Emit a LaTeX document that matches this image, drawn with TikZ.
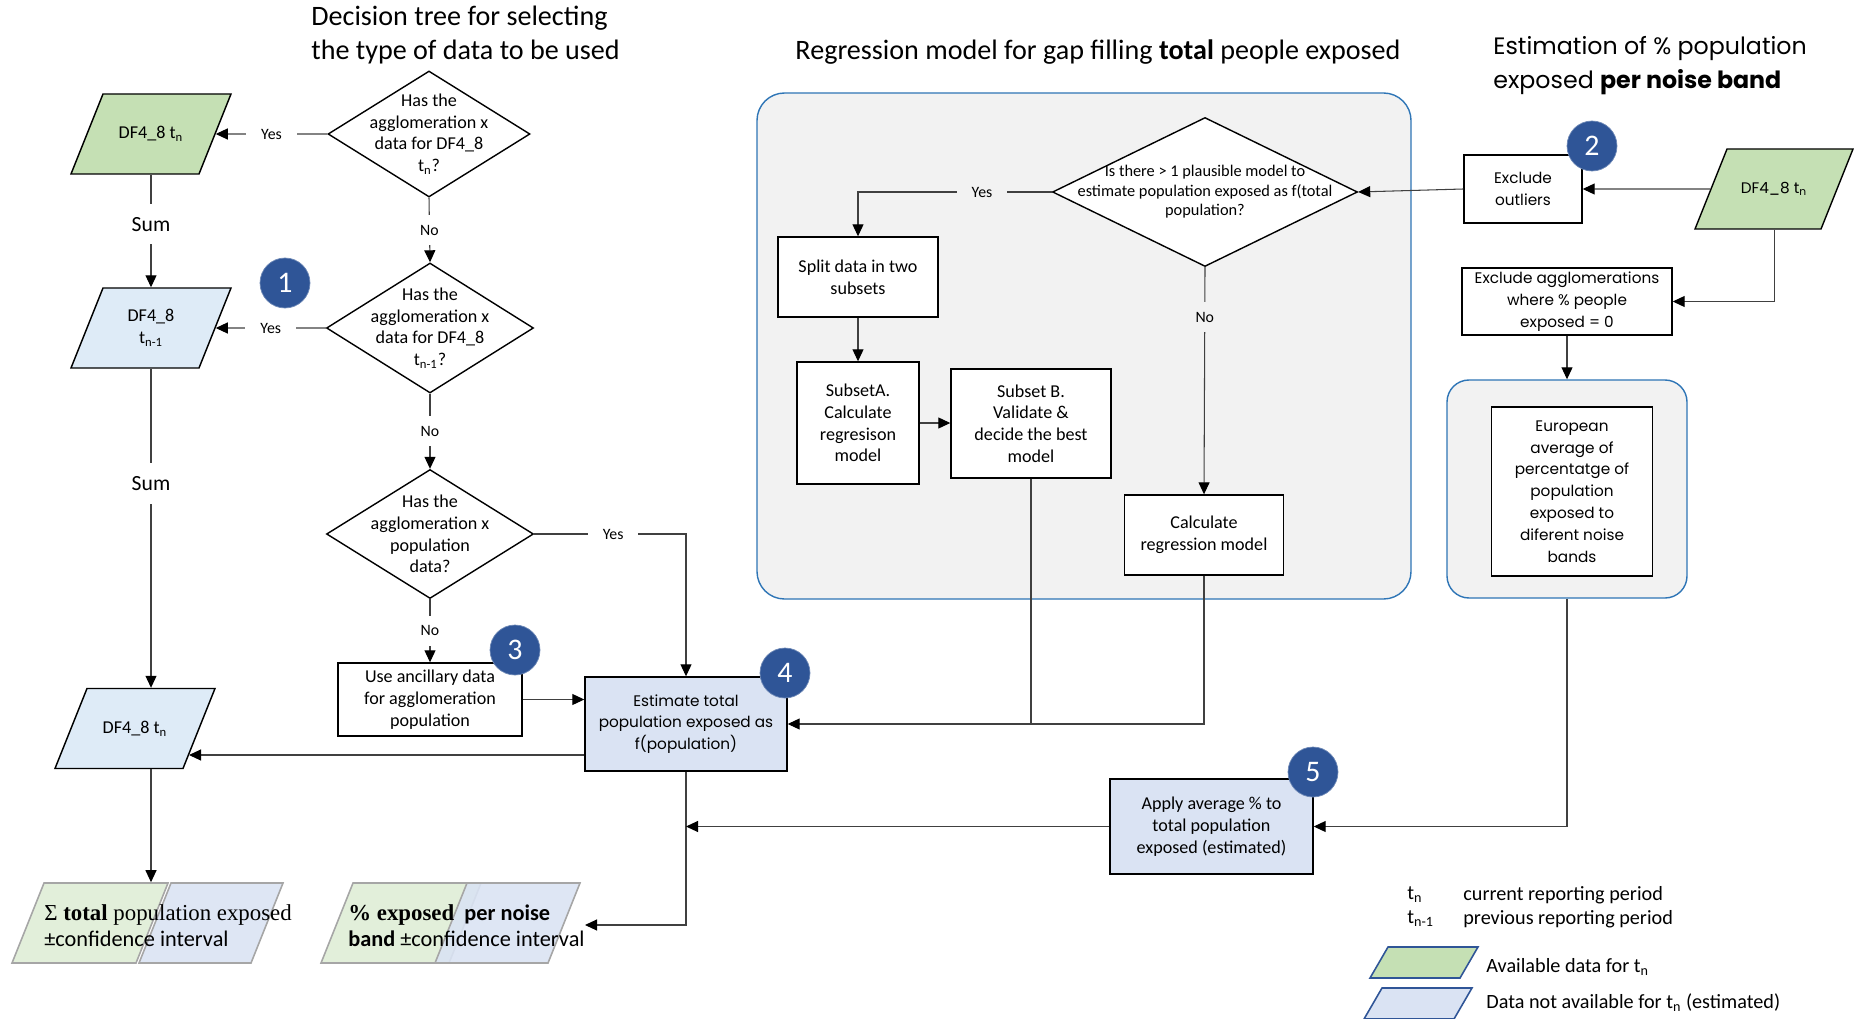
\documentclass[tikz,border=0pt]{standalone}
\usepackage{fontspec}
\setmainfont{Carlito}
\newfontfamily\gothic{Poppins}
\newfontfamily\serifcam{Liberation Serif}
\usetikzlibrary{arrows.meta,shapes.geometric,calc}
\definecolor{ffgreen}{HTML}{C5E0B4}
\definecolor{ffsky}{HTML}{DEEBF7}
\definecolor{ffblue}{HTML}{DAE3F3}
\definecolor{ffnavy}{HTML}{2F5597}
\definecolor{ffframe}{HTML}{2E75B6}
\definecolor{ffgray}{HTML}{F2F2F2}
\definecolor{ffline}{HTML}{404040}
\definecolor{ffpale}{HTML}{E2EFDA}
\tikzset{
  boxtxt/.style={font=\fontsize{10.3}{12.4}\selectfont},
  gothtxt/.style={font=\gothic\fontsize{8.7}{12.4}\selectfont},
  box/.style={draw=black,thick,fill=white,align=center,inner sep=1pt,boxtxt},
  gbox/.style={box,gothtxt},
  quest/.style={diamond,draw=black,thick,fill=white,inner sep=0pt},
  qlab/.style={align=center,inner sep=0pt,boxtxt},
  qlabs/.style={qlab,font=\fontsize{9.3}{11.1}\selectfont},
  % parallelogram: inner width, height
  para/.style 2 args={trapezium,trapezium left angle=68.2,trapezium right angle=111.8,inner sep=0pt,
    execute at begin node={\begin{minipage}[c][#2][c]{#1}\centering\leavevmode},
    execute at end node={\end{minipage}}},
  dfdata/.style={para={19.2mm}{16mm},draw=black,thick,boxtxt},
  outdata/.style={para={#1}{16mm},draw=black!35,line width=0.9pt},
  outtxt/.style={anchor=west,align=left,inner sep=0pt,font=\fontsize{12.7}{14.8}\selectfont},
  keydata/.style={para={14.4mm}{6.2mm},trapezium left angle=59.9,trapezium right angle=120.1,
    draw=ffnavy,line width=0.9pt},
  frame/.style={draw=ffframe,fill=ffgray,line width=0.8pt},
  badge/.style={circle,fill=ffnavy,draw=ffnavy!70,text=white,minimum size=10mm,inner sep=0pt,font=\fontsize{17}{17}\selectfont},
  lbl/.style={fill=white,inner xsep=3mm,inner ysep=2mm,font=\fontsize{9}{10}\selectfont},
  lblg/.style={lbl,fill=ffgray},
  sumlbl/.style={fill=white,inner xsep=2mm,inner ysep=2.6mm,font=\fontsize{12.3}{14}\selectfont},
  keytxt/.style={anchor=west,inner sep=0pt,font=\fontsize{11.5}{13}\selectfont},
  ln/.style={draw=ffline,line width=0.6pt},
  ar/.style={ln,-{Triangle[length=2.4mm,width=2.2mm,color=black]}},
}
\newcommand{\camb}{\serifcam\fontsize{13}{14.8}\selectfont}
\begin{document}
\begin{tikzpicture}[x=0.2mm,y=-0.2mm]
  \useasboundingbox (0,0) rectangle (1854,1019);
  % titles
  \node[anchor=west,align=left,inner sep=0pt,font=\fontsize{16}{19.4}\selectfont] (ttree) at (311,35) {Decision tree for selecting\\the type of data to be used};
  \node[inner sep=0pt,font=\fontsize{16}{19.4}\selectfont] (treg) at (1098,52) {Regression model for gap filling \textbf{total} people exposed};
  \node[anchor=west,align=left,inner sep=0pt,font=\gothic\fontsize{13.5}{19.4}\selectfont] (tband) at (1493,66) {Estimation of \% population\\exposed \textbf{per noise band}};

  % containers
  \node[frame,rounded corners=5.5mm,minimum width=130.8mm,minimum height=101.2mm] (regbox) at (1084,346) {};
  \node[frame,rounded corners=4.4mm,minimum width=48mm,minimum height=43.6mm] (eurbox) at (1567,489) {};

  % decision tree
  \node[dfdata,fill=ffgreen] (dfA) at (151,134) {DF4\_8 t\textsubscript{n}};
  \node[dfdata,fill=ffsky] (dfB) at (151,328) {DF4\_8\\t\textsubscript{n-1}};
  \node[dfdata,fill=ffsky] (dfC) at (135,728.5) {DF4\_8 t\textsubscript{n}};
  \node[quest,minimum width=40.4mm,minimum height=25.2mm,
    label={[qlab]center:Has the\\agglomeration x\\data for DF4\_8\\t\textsubscript{n}?}] (q1) at (429,134) {};
  \node[quest,minimum width=41.4mm,minimum height=26mm,
    label={[qlab]center:Has the\\agglomeration x\\data for DF4\_8\\t\textsubscript{n-1}?}] (q2) at (430,328) {};
  \node[quest,minimum width=41.4mm,minimum height=25.8mm,
    label={[qlab]center:Has the\\agglomeration x\\population\\data?}] (q3) at (430,534) {};
  \node[box,minimum width=36.8mm,minimum height=14.6mm] (anc) at (430,699.5) {Use ancillary data\\for agglomeration\\population};
  \node[gbox,fill=ffblue,minimum width=40.4mm,minimum height=18.8mm] (est) at (686,724) {Estimate total\\population exposed as\\f(population)};

  % outputs
  \node[outdata=18.4mm,fill=ffpale] (sumG) at (90,923) {};
  \node[outdata=16mm,fill=ffblue,fill opacity=0.9] (sumB) at (211,923) {};
  \node[outdata=19.2mm,fill=ffpale] (pctG) at (401,923) {};
  \node[outdata=16.2mm,fill=ffblue,fill opacity=0.9] (pctB) at (507.5,923) {};
  \node[outtxt] (sumT) at (44,926) {{\camb Σ \textbf{total} population exposed}\\±confidence interval};
  \node[outtxt] (pctT) at (348,926) {{\camb\bfseries \% exposed}\ \ \textbf{per noise}\\\textbf{band} ±confidence interval};

  % regression model
  \node[quest,minimum width=61mm,minimum height=29.8mm,
    label={[qlabs]center:Is there > 1 plausible model to\\estimate population exposed as f(total\\population?}] (q4) at (1205,192) {};
  \node[box,minimum width=32mm,minimum height=16mm] (split) at (858,277) {Split data in two\\subsets};
  \node[box,minimum width=24.4mm,minimum height=24.4mm] (subA) at (858,423) {SubsetA.\\Calculate\\regresison\\model};
  \node[box,minimum width=32mm,minimum height=21.8mm] (subB) at (1031,423.5) {Subset B.\\Validate \&\\decide the best\\model};
  \node[box,minimum width=31.8mm,minimum height=16mm] (calc) at (1204,535) {Calculate\\regression model};

  % noise bands
  \node[gbox,minimum width=23.6mm,minimum height=13.6mm] (outl) at (1523,189) {Exclude\\outliers};
  \node[para={18.8mm}{16mm},draw=black,thick,fill=ffgreen,gothtxt] (dfD) at (1774,189) {DF4\_8 t\textsubscript{n}};
  \node[gbox,inner sep=0pt,minimum width=42mm,minimum height=13.4mm] (excl) at (1567,301.5) {Exclude agglomerations\\where \% people\\exposed = 0};
  \node[gbox,minimum width=32.2mm,minimum height=33.8mm] (eur) at (1572,491.5) {European\\average of\\percentatge of\\population\\exposed to\\diferent noise\\bands};
  \node[box,fill=ffblue,minimum width=40.6mm,minimum height=19mm] (apply) at (1211.5,826.5) {Apply average \% to\\total population\\exposed (estimated)};

  \coordinate (cDf) at (189,755);
  \coordinate (cPct) at (585,925);

  % connectors
  \draw[ar] (q1.west) -- node[lbl]{Yes} (dfA.east);
  \draw[ar] (q1.south) -- node[lbl]{No} (q2.north);
  \draw[ar] (dfA.south) -- node[sumlbl,pos=0.44]{Sum} (dfB.north);
  \draw[ar] (q2.west) -- node[lbl]{Yes} (dfB.east);
  \draw[ar] (q2.south) -- node[lbl]{No} (q3.north);
  \draw[ar] (dfB.south) -- node[sumlbl,pos=0.36]{Sum} (dfB.south |- dfC.north);
  \draw[ar] (q3.east) -| node[lbl,pos=0.26]{Yes} (est.north);
  \draw[ar] (q3.south) -- node[lbl]{No} (anc.north);
  \draw[ar] (anc.east) -- (anc.east -| est.west);
  \draw[ar] (est.west |- cDf) -- (cDf);
  \draw[ar] (dfB.south |- dfC.south) -- (dfB.south |- sumG.north);
  \draw[ar] (est.south) |- (cPct);
  \draw[ar] (apply.west) -- (apply.west -| est.south);

  \draw[ar] (q4.west) -| node[lblg,pos=0.18]{Yes} (split.north);
  \draw[ar] (q4.south) -- node[lblg,pos=0.22]{No} (calc.north);
  \draw[ar] (split) -- (subA);
  \draw[ar] (subA.east) -- (subA.east -| subB.west);
  \draw[ln] (subB.south) -- (subB.south |- est.east);
  \draw[ar] (calc.south) |- (est.east);

  \draw[ar] (outl.west) -- (q4.east);
  \draw[ar] (dfD.west) -- (outl.east);
  \draw[ar] (dfD.south) |- (excl.east);
  \draw[ar] (excl.south) -- (eurbox.north);
  \draw[ar] (eurbox.south) |- (apply.east);

  % step numbers
  \node[badge] (n1) at (285,283) {1};
  \node[badge] (n2) at (1592,146) {2};
  \node[badge] (n3) at (515,650) {3};
  \node[badge] (n4) at (785,673) {4};
  \node[badge] (n5) at (1313,772) {5};

  % legend
  \node[keytxt] (kTn) at (1407,895) {t\textsubscript{n}};
  \node[keytxt] (kCur) at (1463,895) {current reporting period};
  \node[keytxt] (kTp) at (1407,919) {t\textsubscript{n-1}};
  \node[keytxt] (kPrev) at (1463,919) {previous reporting period};
  \node[keydata,fill=ffgreen] (kG) at (1424,962.5) {};
  \node[keydata,fill=ffblue] (kB) at (1418,1003.5) {};
  \node[keytxt] (kAv) at (1486,967) {Available data for t\textsubscript{n}};
  \node[keytxt] (kNa) at (1486,1003) {Data not available for t\textsubscript{n} (estimated)};
\end{tikzpicture}
\end{document}
